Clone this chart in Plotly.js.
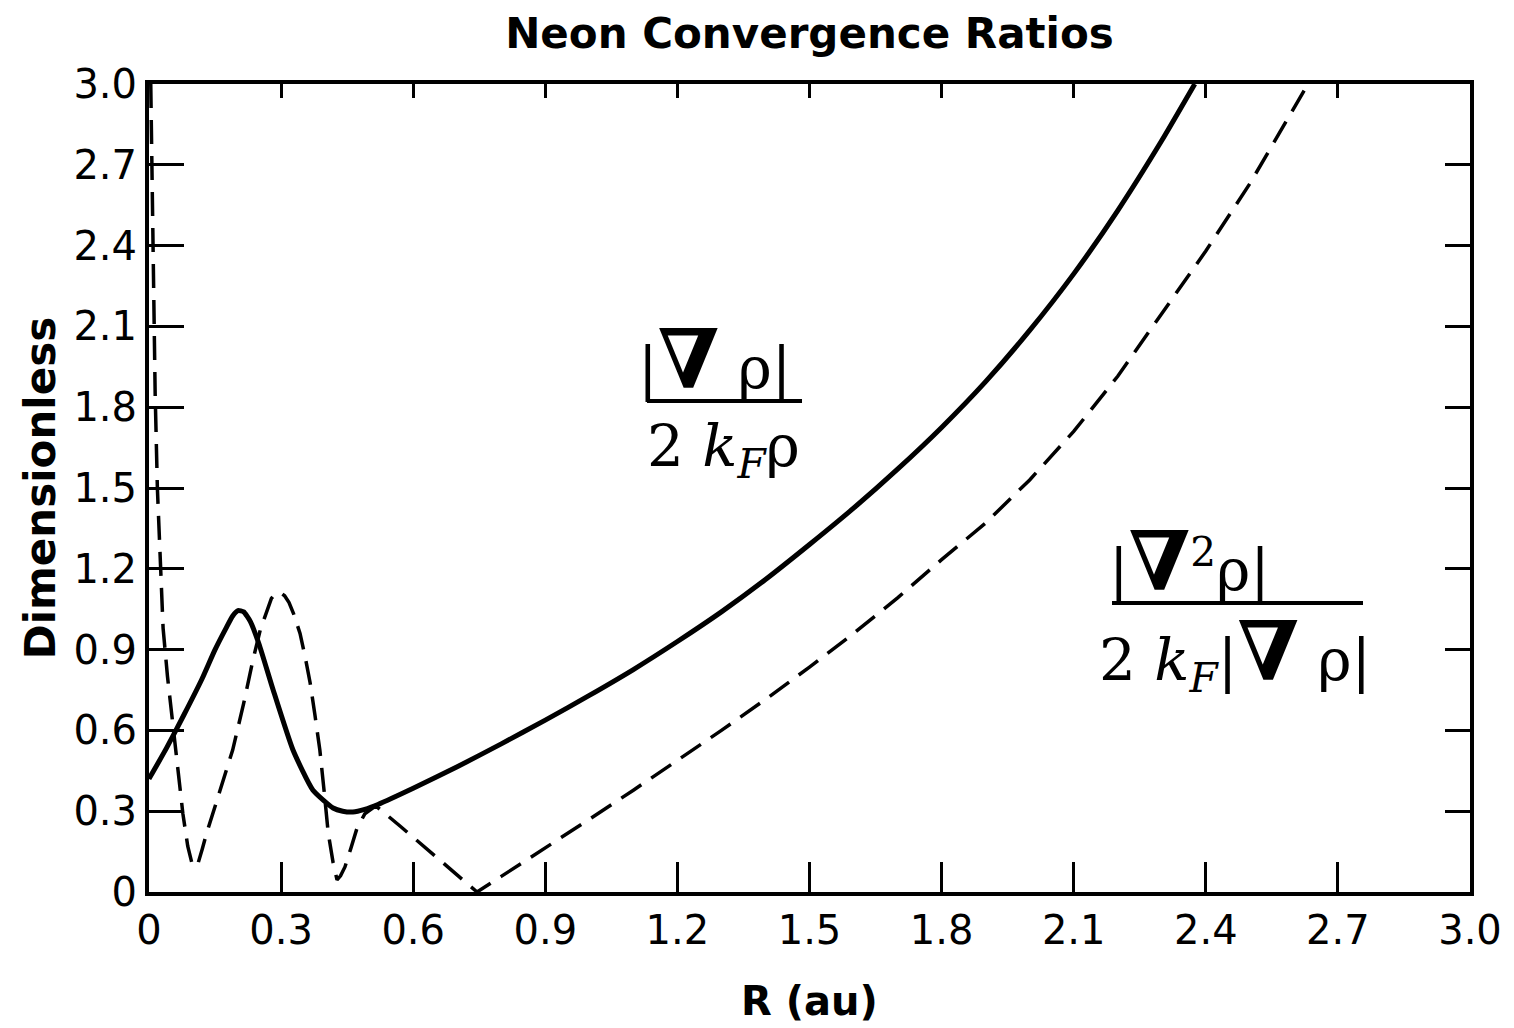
<!DOCTYPE html>
<html>
<head>
<meta charset="utf-8">
<script src="https://cdn.plot.ly/plotly-3.0.1.min.js"></script>
<style>html,body{margin:0;padding:0;background:#fff;}#chart{width:1514px;height:1028px;}</style>
</head>
<body>
<div id="chart"></div>
<script>
// Solid curve: |grad rho| / (2 kF rho)
const rSolid = [0, 0.04, 0.08, 0.12, 0.15, 0.175, 0.19, 0.202, 0.215, 0.23, 0.25, 0.282, 0.327, 0.372, 0.418, 0.44, 0.463, 0.49, 0.52, 0.6, 0.7, 0.8, 0.9, 1.0, 1.1, 1.2, 1.3, 1.4, 1.5, 1.6, 1.7, 1.8, 1.9, 2.0, 2.1, 2.2, 2.3, 2.375];
const gradRatio = [0.42, 0.535, 0.66, 0.79, 0.9, 0.98, 1.025, 1.045, 1.04, 1.005, 0.92, 0.75, 0.527, 0.379, 0.312, 0.30, 0.297, 0.307, 0.325, 0.385, 0.465, 0.55, 0.638, 0.73, 0.826, 0.93, 1.04, 1.16, 1.29, 1.425, 1.57, 1.725, 1.895, 2.085, 2.295, 2.53, 2.79, 3.0];

// Dashed curve: |lap rho| / (2 kF |grad rho|)
const rDashed = [0.004, 0.007, 0.01, 0.014, 0.019, 0.025, 0.032, 0.042, 0.052, 0.065, 0.077, 0.088, 0.097, 0.104, 0.112, 0.121, 0.131, 0.16, 0.19, 0.215, 0.236, 0.253, 0.268, 0.278, 0.288, 0.298, 0.308, 0.318, 0.328, 0.343, 0.355, 0.366, 0.377, 0.388, 0.398, 0.407, 0.418, 0.427, 0.435, 0.445, 0.458, 0.472, 0.49, 0.515, 0.57, 0.645, 0.72, 0.745, 0.8, 0.9, 1.0, 1.1, 1.2, 1.3, 1.4, 1.5, 1.6, 1.7, 1.8, 1.9, 2.0, 2.1, 2.2, 2.3, 2.4, 2.5, 2.6, 2.632];
const lapRatio = [3.0, 2.6, 2.2, 1.85, 1.5, 1.22, 0.98, 0.8, 0.65, 0.46, 0.29, 0.17, 0.11, 0.093, 0.11, 0.16, 0.219, 0.37, 0.527, 0.70, 0.861, 0.975, 1.047, 1.09, 1.11, 1.112, 1.10, 1.075, 1.035, 0.96, 0.87, 0.776, 0.655, 0.527, 0.37, 0.219, 0.11, 0.045, 0.06, 0.093, 0.16, 0.235, 0.29, 0.32, 0.245, 0.14, 0.035, 0.0, 0.058, 0.163, 0.27, 0.378, 0.488, 0.60, 0.715, 0.835, 0.96, 1.092, 1.234, 1.37, 1.53, 1.71, 1.915, 2.15, 2.38, 2.63, 2.91, 3.0];

const tickVals = [0, 0.3, 0.6, 0.9, 1.2, 1.5, 1.8, 2.1, 2.4, 2.7, 3.0];
const tickText = ['0', '0.3', '0.6', '0.9', '1.2', '1.5', '1.8', '2.1', '2.4', '2.7', '3.0'];

const chartTitle = 'Neon Convergence Ratios';
const xTitle = 'R (au)';
const yTitle = 'Dimensionless';

const nabla = '<b><span style="font-size:82px">∇</span></b>';
const labelGradNum = '|' + nabla + ' ρ|';
const labelGradDen = '2 <i>k</i><sub><i>F</i></sub>ρ';
const labelLapNum = '|' + nabla + '<sup>2</sup>ρ|';
const labelLapDen = '2 <i>k</i><sub><i>F</i></sub>|' + nabla + ' ρ|';

const sansFont = 'DejaVu Sans, sans-serif';
const serifFont = 'DejaVu Serif, serif';

const traces = [
  {x: rSolid, y: gradRatio, type: 'scatter', mode: 'lines', line: {color: '#000', width: 5, shape: 'spline', smoothing: 0.5}, showlegend: false, hoverinfo: 'skip'},
  {x: rDashed, y: lapRatio, type: 'scatter', mode: 'lines', line: {color: '#000', width: 3.5, dash: '24px,12px'}, showlegend: false, hoverinfo: 'skip'},
  {x: [], y: [], xaxis: 'x2', yaxis: 'y2', type: 'scatter', mode: 'lines', showlegend: false}
];

const axisCommon = {
  range: [0, 3], tickvals: tickVals, ticktext: tickText,
  ticks: 'inside', tickwidth: 3, tickcolor: '#000',
  showline: true, linewidth: 4, linecolor: '#000',
  showgrid: false, zeroline: false, fixedrange: true
};

const layout = {
  width: 1514, height: 1028,
  paper_bgcolor: '#fff', plot_bgcolor: '#fff',
  margin: {l: 149, r: 44, t: 84, b: 136},
  font: {family: sansFont, color: '#000'},
  title: {text: chartTitle, font: {size: 42, family: sansFont, color: '#000', weight: 'bold'}, x: 0.5, xref: 'paper', y: 1 - 33/1028, yref: 'container', yanchor: 'middle'},
  xaxis: Object.assign({}, axisCommon, {ticklen: 30, tickfont: {size: 40, family: sansFont}, title: {text: xTitle, font: {size: 40, family: sansFont, weight: 'bold'}, standoff: 36}}),
  yaxis: Object.assign({}, axisCommon, {ticklen: 35, tickfont: {size: 40, family: sansFont}, title: {text: yTitle, font: {size: 42, family: sansFont, weight: 'bold'}, standoff: 6}}),
  xaxis2: Object.assign({}, axisCommon, {overlaying: 'x', side: 'top', anchor: 'y', ticklen: 14, showticklabels: false}),
  yaxis2: Object.assign({}, axisCommon, {overlaying: 'y', side: 'right', anchor: 'x', ticklen: 25, showticklabels: false}),
  shapes: [
    {type: 'line', xref: 'x', yref: 'y', x0: 1.131, x1: 1.483, y0: 1.823, y1: 1.823, line: {color: '#000', width: 4}},
    {type: 'line', xref: 'x', yref: 'y', x0: 2.187, x1: 2.757, y0: 1.073, y1: 1.073, line: {color: '#000', width: 4}}
  ],
  annotations: [
    {x: 1.285, y: 1.98, xref: 'x', yref: 'y', text: labelGradNum, showarrow: false, font: {size: 58, family: serifFont, color: '#000'}, xanchor: 'center', yanchor: 'middle'},
    {x: 1.304, y: 1.64, xref: 'x', yref: 'y', text: labelGradDen, showarrow: false, font: {size: 58, family: serifFont, color: '#000'}, xanchor: 'center', yanchor: 'middle'},
    {x: 2.364, y: 1.23, xref: 'x', yref: 'y', text: labelLapNum, showarrow: false, font: {size: 58, family: serifFont, color: '#000'}, xanchor: 'center', yanchor: 'middle'},
    {x: 2.467, y: 0.89, xref: 'x', yref: 'y', text: labelLapDen, showarrow: false, font: {size: 58, family: serifFont, color: '#000'}, xanchor: 'center', yanchor: 'middle'}
  ]
};

Plotly.newPlot('chart', traces, layout, {displayModeBar: false, staticPlot: true});
</script>
</body>
</html>
